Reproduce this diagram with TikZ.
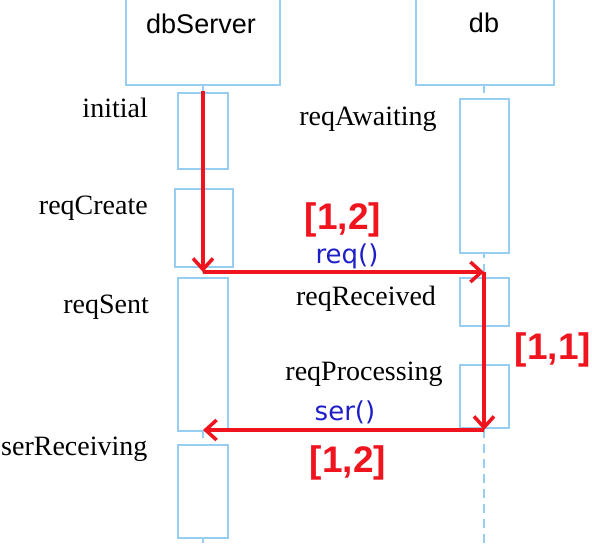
\documentclass[tikz,border=0pt]{standalone}
\usepackage{fontspec}
\setmainfont{Liberation Serif}
\newfontfamily\hsans{Liberation Sans}
\newfontfamily\msans{DejaVu Sans}
\usetikzlibrary{arrows.meta}
\definecolor{lblue}{RGB}{150,205,240}
\definecolor{myred}{RGB}{240,20,30}
\definecolor{myblue}{RGB}{30,30,200}
\tikzset{
  headbox/.style={draw=lblue, line width=1.6pt, fill=white, anchor=north west, inner sep=0, minimum width=154pt, minimum height=90pt},
  actbox/.style={draw=lblue, line width=1.6pt, fill=white, anchor=north west, inner sep=0, minimum width=50pt},
  lifeline/.style={draw=lblue, line width=1.4pt, dash pattern=on 9pt off 6pt},
  headtxt/.style={font=\hsans\fontsize{27}{30}\selectfont, inner sep=0, anchor=base},
  statetxt/.style={font=\fontsize{28}{32}\selectfont, inner sep=0},
  msgtxt/.style={font=\msans\fontsize{26}{30}\selectfont, text=myblue, inner sep=0, anchor=base},
  multtxt/.style={font=\hsans\bfseries\fontsize{37}{40}\selectfont, text=myred, inner sep=0, anchor=base},
  flow/.style={draw=myred, line width=4pt, -{Straight Barb[length=11pt,width=20pt,line width=3.5pt]}},
}
\begin{document}
\begin{tikzpicture}[x=1pt,y=-1pt]
\useasboundingbox (0,0) rectangle (592,546);
% lifelines
\draw[lifeline] (203,84) -- (203,546);
\draw[lifeline] (484,84) -- (484,546);
% heads
\node[headbox, minimum width=154pt] (hs) at (125,-6) {};
\node[headbox, minimum width=138pt] (hd) at (415,-6) {};
\node[headtxt] (ts) at (201,33) {dbServer};
\node[headtxt] (td) at (484,32) {db};
% activation boxes dbServer
\node[actbox, minimum height=76pt] (b1) at (177,92) {};
\node[actbox, minimum width=58pt, minimum height=78pt] (b2) at (174,188) {};
\node[actbox, minimum height=153pt] (b3) at (177,277) {};
\node[actbox, minimum height=93pt] (b4) at (177,444) {};
% activation boxes db
\node[actbox, minimum width=49pt, minimum height=154pt] (d1) at (459,98) {};
\node[actbox, minimum width=49pt, minimum height=48pt] (d2) at (459,277) {};
\node[actbox, minimum width=49pt, minimum height=63pt] (d3) at (459,364) {};
% state labels
\node[statetxt, anchor=base east] (l1) at (148,117) {initial};
\node[statetxt, anchor=base east] (l2) at (148,214) {reqCreate};
\node[statetxt, anchor=base east] (l3) at (149,313) {reqSent};
\node[statetxt, anchor=base west] (l4) at (1,455) {serReceiving};
\node[statetxt, anchor=base] (l5) at (368,125) {reqAwaiting};
\node[statetxt, anchor=base] (l6) at (366,305) {reqReceived};
\node[statetxt, anchor=base] (l7) at (364,380) {reqProcessing};
% red flow
\coordinate (p0) at (203,91);
\coordinate (p1) at (203,272);
\coordinate (p2) at (484,272);
\coordinate (p3) at (484,430);
\coordinate (p4) at (203,430);
\draw[flow] (p0) -- (p1);
\draw[flow] (p1) -- (p2);
\draw[flow] (p2) -- (p3);
\draw[flow] (p3) -- (p4);
% messages
\node[msgtxt] (m1) at (347,263) {req()};
\node[msgtxt] (m2) at (345,420) {ser()};
\node[multtxt] (k1) at (343,229) {[1,2]};
\node[multtxt] (k2) at (553,359) {[1,1]};
\node[multtxt] (k3) at (348,472) {[1,2]};
\end{tikzpicture}
\end{document}
